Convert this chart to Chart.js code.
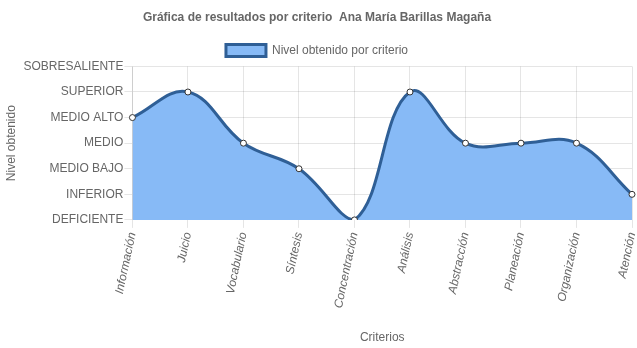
<!DOCTYPE html>
<html>
<head>
<meta charset="utf-8">
<script src="https://cdn.jsdelivr.net/npm/chart.js@4/dist/chart.umd.min.js"></script>
<style>
  body { margin: 0; background: #fff; }
</style>
</head>
<body>
<canvas id="chart" width="637" height="348"></canvas>
<script>
const criterios = ['Información', 'Juicio', 'Vocabulario', 'Síntesis', 'Concentración', 'Análisis', 'Abstracción', 'Planeación', 'Organización', 'Atención'];
const niveles = [4, 5, 3, 2, 0, 5, 3, 3, 3, 1];
const nombresNivel = ['DEFICIENTE', 'INFERIOR', 'MEDIO BAJO', 'MEDIO', 'MEDIO ALTO', 'SUPERIOR', 'SOBRESALIENTE'];

Chart.defaults.font.family = "'Liberation Sans', Arial, Helvetica, sans-serif";
Chart.defaults.font.size = 12;
Chart.defaults.color = '#666';

new Chart(document.getElementById('chart'), {
  type: 'line',
  data: {
    labels: criterios,
    datasets: [{
      label: 'Nivel obtenido por criterio',
      data: niveles,
      borderColor: '#2f5f96',
      backgroundColor: 'rgba(135, 186, 246, 1)',
      borderWidth: 3,
      tension: 0.4,
      fill: true,
      pointRadius: 3,
      pointBackgroundColor: '#fff',
      pointBorderColor: '#333',
      pointBorderWidth: 1
    }]
  },
  options: {
    responsive: false,
    animation: false,
    layout: { padding: { left: 0, right: 3, top: 0, bottom: 1 } },
    plugins: {
      title: {
        display: true,
        text: 'Gráfica de resultados por criterio  Ana María Barillas Magaña',
        font: { size: 12, weight: 'bold' },
        padding: { top: 10, bottom: 10 }
      },
      legend: {
        labels: { boxWidth: 40, boxHeight: 12, padding: 10 }
      },
      tooltip: { enabled: false }
    },
    scales: {
      x: {
        grid: { color: 'rgba(0,0,0,0.1)', tickLength: 8 },
        ticks: { font: { style: 'italic' }, minRotation: 78, maxRotation: 78 },
        title: { display: true, text: 'Criterios', padding: { top: 18, bottom: 2 } },
        afterFit: s => { s.paddingRight = 0; }
      },
      y: {
        min: 0,
        max: 6,
        grid: { color: 'rgba(0,0,0,0.1)', tickLength: 8 },
        ticks: {
          stepSize: 1,
          padding: 1,
          callback: v => nombresNivel[v]
        },
        title: { display: true, text: 'Nivel obtenido' }
      }
    }
  }
});
</script>
</body>
</html>
